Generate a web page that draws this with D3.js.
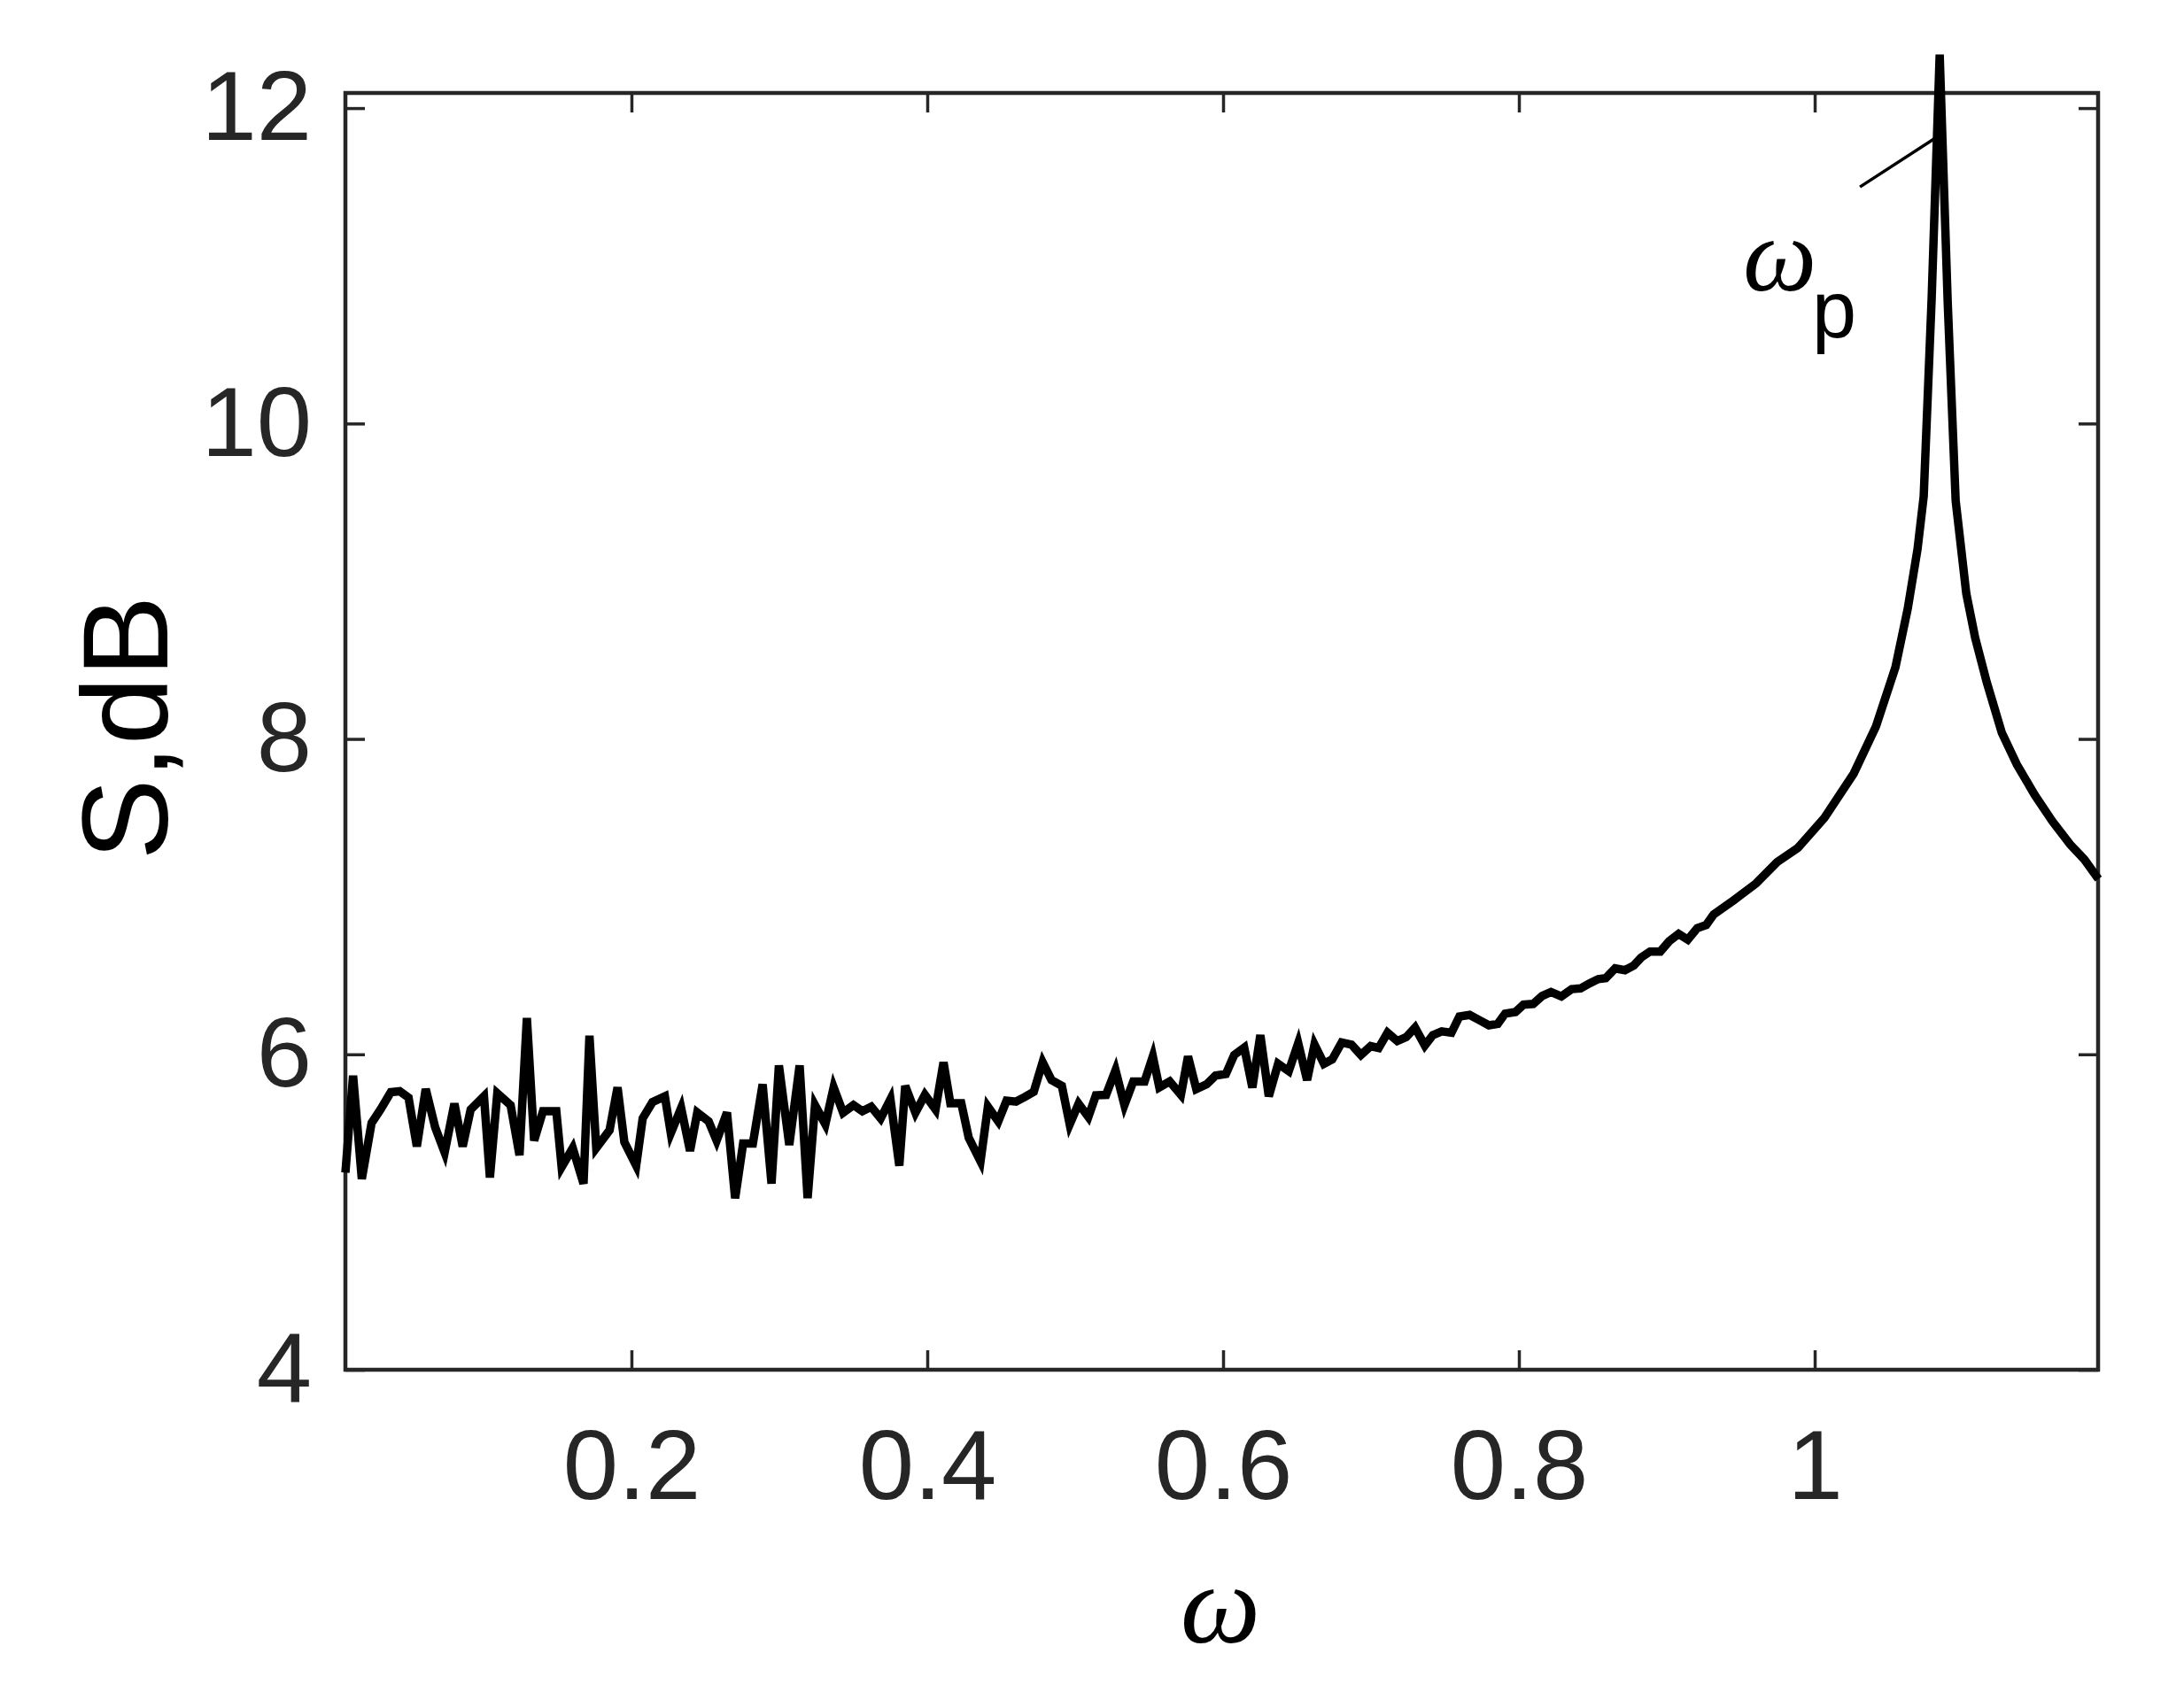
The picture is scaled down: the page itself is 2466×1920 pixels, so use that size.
<!doctype html>
<html>
<head>
    <meta charset="UTF-8">
    <title>S, dB vs omega</title>
    <script src="https://d3js.org/d3.v7.min.js"></script>
    <style>
        body{ margin:0; background:#fff; }
        .tick text{ font-family:"Liberation Sans", Arial, sans-serif; fill:#262626; }
    </style>
</head>
<body>
    <svg width="2466" height="1920" id="svg1"></svg>

    <script>
        // frequency (omega)
        var omega = [0.0066, 0.0118, 0.0177, 0.0243, 0.0303, 0.0373, 0.0433, 0.0493, 0.0549, 0.0609,
                     0.0673, 0.0737, 0.0803, 0.0859, 0.0913, 0.1003, 0.1043, 0.1093, 0.1183, 0.1243,
                     0.1293, 0.1342, 0.1402, 0.1492, 0.1528, 0.1603, 0.1676, 0.1716, 0.1762, 0.1852,
                     0.1906, 0.1952, 0.2032, 0.2076, 0.2142, 0.2226, 0.2266, 0.2336, 0.2396, 0.2445,
                     0.2522, 0.2576, 0.2646, 0.2701, 0.2755, 0.2821, 0.2887, 0.2947, 0.2997, 0.3067,
                     0.3137, 0.3191, 0.3241, 0.3311, 0.3367, 0.3431, 0.3501, 0.3561, 0.3621, 0.3685,
                     0.3751, 0.3811, 0.3851, 0.3920, 0.3984, 0.4056, 0.4110, 0.4156, 0.4230, 0.4280,
                     0.4360, 0.4410, 0.4480, 0.4536, 0.4600, 0.4660, 0.4720, 0.4780, 0.4840, 0.4910,
                     0.4963, 0.5023, 0.5089, 0.5140, 0.5209, 0.5273, 0.5333, 0.5393, 0.5469, 0.5525,
                     0.5569, 0.5639, 0.5715, 0.5763, 0.5819, 0.5889, 0.5949, 0.6019, 0.6075, 0.6143,
                     0.6198, 0.6252, 0.6309, 0.6372, 0.6444, 0.6508, 0.6568, 0.6618, 0.6682, 0.6738,
                     0.6802, 0.6868, 0.6932, 0.6998, 0.7052, 0.7112, 0.7178, 0.7238, 0.7298, 0.7364,
                     0.7418, 0.7478, 0.7544, 0.7598, 0.7667, 0.7727, 0.7797, 0.7857, 0.7907, 0.7977,
                     0.8031, 0.8097, 0.8157, 0.8217, 0.8287, 0.8357, 0.8417, 0.8477, 0.8537, 0.8587,
                     0.8651, 0.8717, 0.8777, 0.8827, 0.8887, 0.8956, 0.9016, 0.9080, 0.9142, 0.9206,
                     0.9266, 0.9316, 0.9454, 0.9604, 0.9746, 0.9886, 1.0066, 1.0264, 1.0414, 1.0546,
                     1.0629, 1.0695, 1.0737, 1.0791, 1.0845, 1.0899, 1.0953, 1.1025, 1.1085, 1.1163,
                     1.1265, 1.1367, 1.1487, 1.1607, 1.1727, 1.1823, 1.1918];

        // spectrum S, dB
        var sdb = [5.25, 5.865, 5.21, 5.565, 5.65, 5.76, 5.766, 5.725, 5.416, 5.78,
                   5.537, 5.378, 5.687, 5.416, 5.65, 5.734, 5.219, 5.753, 5.678, 5.36,
                   6.23, 5.453, 5.64, 5.64, 5.285, 5.406, 5.18, 6.118, 5.406, 5.519,
                   5.79, 5.444, 5.294, 5.594, 5.697, 5.734, 5.5, 5.66, 5.388, 5.631,
                   5.575, 5.453, 5.631, 5.088, 5.434, 5.434, 5.81, 5.18, 5.93, 5.425,
                   5.93, 5.088, 5.678, 5.556, 5.79, 5.63, 5.678, 5.64, 5.668, 5.594,
                   5.715, 5.294, 5.8, 5.63, 5.743, 5.65, 5.95, 5.69, 5.69, 5.472,
                   5.322, 5.668, 5.575, 5.706, 5.70, 5.73, 5.762, 5.95, 5.837, 5.8,
                   5.556, 5.687, 5.603, 5.74, 5.743, 5.9, 5.678, 5.828, 5.828, 5.987,
                   5.79, 5.828, 5.743, 5.987, 5.78, 5.81, 5.865, 5.875, 5.996, 6.043,
                   5.79, 6.122, 5.734, 5.94, 5.893, 6.071, 5.837, 6.062, 5.94, 5.968,
                   6.075, 6.062, 5.996, 6.052, 6.04, 6.137, 6.084, 6.109, 6.17, 6.056,
                   6.122, 6.146, 6.137, 6.24, 6.25, 6.22, 6.184, 6.193, 6.258, 6.268,
                   6.315, 6.32, 6.37, 6.395, 6.367, 6.414, 6.418, 6.45, 6.477, 6.483,
                   6.545, 6.534, 6.564, 6.614, 6.652, 6.652, 6.717, 6.764, 6.727, 6.8,
                   6.82, 6.886, 6.978, 7.084, 7.219, 7.309, 7.50, 7.781, 8.079, 8.455,
                   8.826, 9.202, 9.539, 10.80, 12.34, 10.775, 9.511, 8.921, 8.64, 8.36,
                   8.039, 7.837, 7.646, 7.478, 7.331, 7.236, 7.112];

        var xTicks = [0.2, 0.4, 0.6, 0.8, 1];
        var yTicks = [4, 6, 8, 10, 12];
        var xLimits = [0.0066, 1.1916];
        var yLimits = [4, 12.096];

        // leader line for the omega_p label (data coords)
        var leaderW = [1.0306, 1.0815];
        var leaderS = [11.50, 11.81];

        // plot box in pixels ("top" is taken by window.top, so prefixed names)
        var boxL = 390, boxR = 2369, boxT = 105, boxB = 1547;
        var svg = d3.select("#svg1");

        var x = d3.scaleLinear().domain(xLimits).range([boxL, boxR]);
        var y = d3.scaleLinear().domain(yLimits).range([boxB, boxT]);

        // axes (MATLAB style: ticks inside, box on)
        var gx = svg.append("g")
            .attr("transform", "translate(0," + boxB + ")")
            .call(d3.axisBottom(x).tickValues(xTicks).tickSizeInner(-22).tickSizeOuter(0)
                  .tickPadding(66).tickFormat(d3.format("")));
        var gy = svg.append("g")
            .attr("transform", "translate(" + boxL + ",0)")
            .call(d3.axisLeft(y).tickValues(yTicks).tickSizeInner(-22).tickSizeOuter(0)
                  .tickPadding(38).tickFormat(d3.format("")));
        var gt = svg.append("g")
            .attr("transform", "translate(0," + boxT + ")")
            .call(d3.axisTop(x).tickValues(xTicks).tickSizeInner(-22).tickSizeOuter(0).tickFormat(""));
        var gr = svg.append("g")
            .attr("transform", "translate(" + boxR + ",0)")
            .call(d3.axisRight(y).tickValues(yTicks).tickSizeInner(-22).tickSizeOuter(0).tickFormat(""));

        [gx, gy, gt, gr].forEach(function(g){
            g.select(".domain").remove();
            g.selectAll(".tick line").attr("stroke", "#262626").attr("stroke-width", 3.5);
            g.selectAll(".tick text").attr("font-size", 112);
        });

        svg.append("rect")
           .attr("x", boxL).attr("y", boxT)
           .attr("width", boxR - boxL).attr("height", boxB - boxT)
           .attr("fill", "none")
           .attr("stroke", "#262626")
           .attr("stroke-width", 4.5);

        // spectrum curve
        var line = d3.line()
            .x(function(d, i){ return x(omega[i]); })
            .y(function(d){ return y(d); });

        svg.append("path")
           .datum(sdb)
           .attr("d", line)
           .attr("fill", "none")
           .attr("stroke", "#000")
           .attr("stroke-width", 9.5)
           .attr("stroke-linejoin", "miter");

        // omega_p annotation
        svg.append("line")
           .attr("x1", x(leaderW[0])).attr("y1", y(leaderS[0]))
           .attr("x2", x(leaderW[1])).attr("y2", y(leaderS[1]))
           .attr("stroke", "#000")
           .attr("stroke-width", 3.5);

        svg.append("text")
           .attr("x", 1968).attr("y", 328)
           .attr("font-family", "'Liberation Serif', serif")
           .attr("font-style", "italic")
           .attr("font-size", 118)
           .text("ω");
        svg.append("text")
           .attr("x", 2046).attr("y", 381)
           .attr("font-family", "'Liberation Sans', Arial, sans-serif")
           .attr("font-size", 90)
           .text("p");

        // axis labels
        svg.append("text")
           .attr("x", 1378).attr("y", 1855)
           .attr("text-anchor", "middle")
           .attr("font-family", "'Liberation Serif', serif")
           .attr("font-style", "italic")
           .attr("font-size", 128)
           .text("ω");

        svg.append("text")
           .attr("transform", "translate(189,822) rotate(-90)")
           .attr("text-anchor", "middle")
           .attr("font-family", "'Liberation Sans', Arial, sans-serif")
           .attr("font-size", 138)
           .attr("fill", "#000")
           .text("S,dB");
    </script>
</body>
</html>
